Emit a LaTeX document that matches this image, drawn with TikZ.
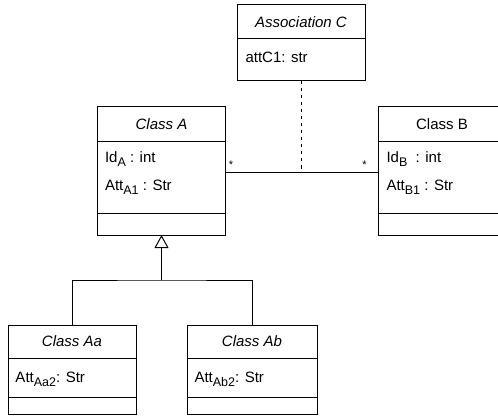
\documentclass[tikz,border=0pt]{standalone}
\usepackage{fontspec}
\setmainfont{Liberation Sans}
\usetikzlibrary{positioning, arrows.meta}
\newcommand{\sbs}[1]{\raisebox{-4pt}{\fontsize{12.5}{14}\selectfont #1}}

\begin{document}
\begin{tikzpicture}[x=1pt, y=-1pt, line width=1pt, font=\fontsize{15}{18}\selectfont,
    hdr/.style={draw, rectangle, outer sep=0pt, inner sep=0pt, anchor=north west},
    comp/.style={draw, rectangle, outer sep=0pt, inner sep=0pt},
    attr/.style={anchor=base west, inner sep=0pt},
    mult/.style={anchor=base, inner sep=0pt, font=\fontsize{11}{13}\selectfont}]
            \useasboundingbox (0,0) rectangle (498,417);
            % association class
            \node[hdr, minimum width=128pt, minimum height=34pt] (C) at (237,5) {\textit{Association C}};
            \node[comp, minimum width=128pt, minimum height=42pt, below=0pt of C] (Cattr) {};
            \node[attr] (C1) at ([shift={(8,24)}]Cattr.north west) {attC1: str};
            % Class A and Class B
            \node[hdr, minimum width=128pt, minimum height=35pt] (A) at (97.5,107) {\textit{Class A}};
            \node[comp, minimum width=128pt, minimum height=71pt, below=0pt of A] (Aattr) {};
            \node[comp, minimum width=128pt, minimum height=22pt, below=0pt of Aattr] (Aops) {};
            \node[attr] (A1) at ([shift={(7,21)}]Aattr.north west) {Id\sbs{A} : int};
            \node[attr] (A2) at ([shift={(7,48)}]Aattr.north west) {Att\sbs{A1} : Str};
            \node[hdr, minimum width=128pt, minimum height=35pt] (B) at (378,107) {Class B};
            \node[comp, minimum width=128pt, minimum height=71pt, below=0pt of B] (Battr) {};
            \node[comp, minimum width=128pt, minimum height=22pt, below=0pt of Battr] (Bops) {};
            \node[attr] (B1) at ([shift={(8,21)}]Battr.north west) {Id\sbs{B}\ \ : int};
            \node[attr] (B2) at ([shift={(8,48)}]Battr.north west) {Att\sbs{B1} : Str};
            % subclasses
            \node[hdr, minimum width=128pt, minimum height=33pt] (Aa) at (8,325) {\textit{Class Aa}};
            \node[comp, minimum width=128pt, minimum height=39pt, below=0pt of Aa] (Aaattr) {};
            \node[comp, minimum width=128pt, minimum height=17pt, below=0pt of Aaattr] (Aaops) {};
            \node[attr] (Aa1) at ([shift={(7,24)}]Aaattr.north west) {Att\sbs{Aa2}: Str};
            \node[hdr, minimum width=130pt, minimum height=33pt] (Ab) at (187,325) {\textit{Class Ab}};
            \node[comp, minimum width=130pt, minimum height=39pt, below=0pt of Ab] (Abattr) {};
            \node[comp, minimum width=130pt, minimum height=17pt, below=0pt of Abattr] (Abops) {};
            \node[attr] (Ab1) at ([shift={(7,24)}]Abattr.north west) {Att\sbs{Ab2}: Str};
            % association
            \coordinate (endA) at ([yshift=-30pt]Aattr.north east);
            \coordinate (endB) at (endA -| Battr.west);
            \draw (endA) -- (endB);
            \draw[dash pattern=on 3.5pt off 3.5pt] (Cattr.south) -- (Cattr.south |- endA);
            \node[mult] (mA) at ([shift={(5.5,-4)}]endA) {*};
            \node[mult] (mB) at ([shift={(-13.5,-4)}]endB) {*};
            % generalization
            \coordinate (split) at (Aops.south |- 0,280);
            \draw (Aa.north) |- (split) -| (Ab.north);
            \draw[-{Triangle[open, length=13pt, width=14pt]}] (split) -- (Aops.south);
        \end{tikzpicture}
\end{document}
